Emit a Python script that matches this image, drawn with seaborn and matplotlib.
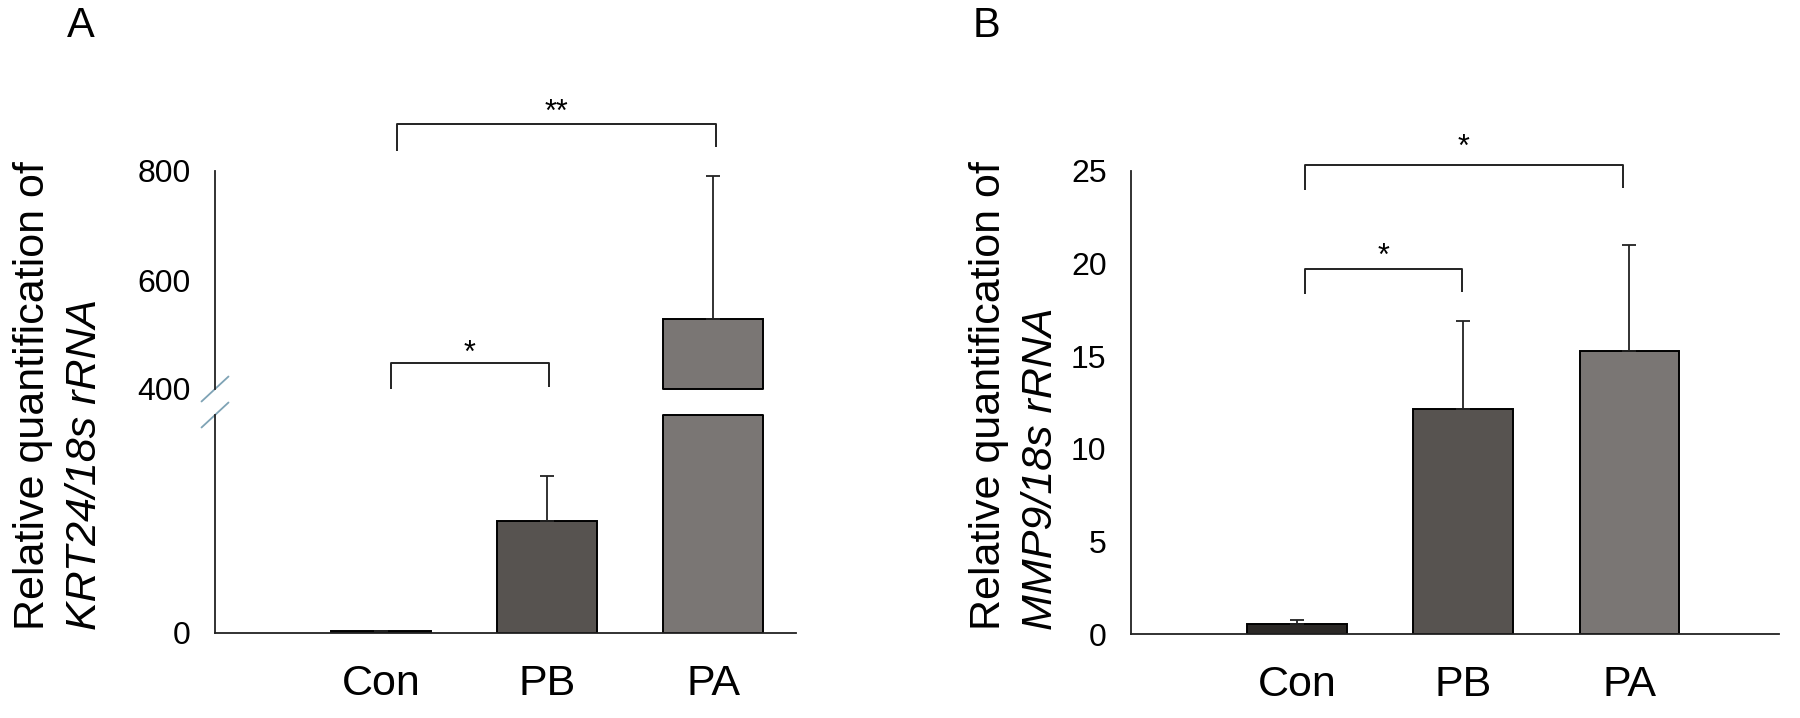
"""
Relative expression of KRT24 and MMP9 (qPCR, normalised to 18s rRNA).

Panel A uses a broken y-axis (two stacked axes), panel B a plain axis.
"""

import matplotlib

matplotlib.use("Agg")

import matplotlib.pyplot as plt
import numpy as np
import pandas as pd
import seaborn as sns


GROUPS = ["Con", "PB", "PA"]

# panel A: KRT24 / 18s rRNA (mean and upper SD)
KRT24_MEAN = [3, 206, 528]
KRT24_SD = [1, 82, 263]
KRT24_LOWER_LIM = (0, 400)
KRT24_UPPER_LIM = (400, 800)
KRT24_LOWER_TICKS = [0]
KRT24_UPPER_TICKS = [400, 600, 800]

# panel B: MMP9 / 18s rRNA
MMP9_MEAN = [0.55, 12.15, 15.3]
MMP9_SD = [0.22, 4.75, 5.7]
MMP9_LIM = (0, 25)
MMP9_TICKS = [0, 5, 10, 15, 20, 25]

# (group a, group b, label)
KRT24_SIG = [(0, 1, "*"), (0, 2, "**")]
MMP9_SIG = [(0, 1, "*"), (0, 2, "*")]

BAR_COLORS = ["#2b2826", "#575350", "#7a7674"]
LINE_COLOR = "#222222"
BREAK_COLOR = "#7fa3b5"

W, H = 1800, 718


def px_box(left, top, right, bottom):
    """Pixel box -> figure fraction [l, b, w, h]."""
    return [left / W, 1 - bottom / H, (right - left) / W, (bottom - top) / H]


def draw_bars(ax, means, sds):
    df = pd.DataFrame({"group": GROUPS, "value": means})
    sns.barplot(
        data=df, x="group", y="value", hue="group", order=GROUPS, hue_order=GROUPS,
        palette=BAR_COLORS, saturation=1, width=0.6, errorbar=None, legend=False,
        edgecolor="black", linewidth=1.4, ax=ax,
    )
    x = np.arange(len(GROUPS))
    ax.errorbar(
        x, means, yerr=[np.zeros(len(means)), sds], fmt="none",
        ecolor=LINE_COLOR, elinewidth=1.3, capsize=5, capthick=1.3, zorder=1,
    )
    ax.set_xlabel("")
    ax.set_ylabel("")


def style_axis(ax, show_x=True):
    sns.despine(ax=ax, top=True, right=True, bottom=not show_x)
    for side in ("left", "bottom"):
        ax.spines[side].set_linewidth(1.3)
        ax.spines[side].set_color(LINE_COLOR)
    ax.tick_params(axis="y", direction="out", length=3.6, width=1, pad=14,
                   labelsize=23, color=LINE_COLOR, labelcolor="black")
    if show_x:
        ax.tick_params(axis="x", direction="out", length=5, width=1, pad=17,
                       labelsize=31, color=LINE_COLOR, labelcolor="black")
    else:
        ax.tick_params(axis="x", bottom=False, labelbottom=False)


def bracket(ax, x0, x1, y, leg0, leg1, label, label_y):
    ax.plot([x0, x0, x1, x1], [leg0, y, y, leg1], color=LINE_COLOR, lw=1.4,
            clip_on=False, solid_capstyle="butt")
    ax.text((x0 + x1) / 2, label_y, label, ha="center", va="baseline",
            fontsize=22, color="black", clip_on=False)


def main():
    sns.set_style("white")
    plt.rcParams["font.family"] = ["Liberation Sans", "DejaVu Sans"]
    plt.rcParams["text.color"] = "black"

    fig = plt.figure(figsize=(W / 100, H / 100), dpi=100)

    # ---- panel A (broken axis) ----
    ax_hi = fig.add_axes(px_box(215, 171, 796, 389))
    ax_lo = fig.add_axes(px_box(215, 415, 796, 633))
    for ax in (ax_lo, ax_hi):
        draw_bars(ax, KRT24_MEAN, KRT24_SD)
        ax.set_xlim(-1.0, 2.5)
    ax_lo.set_ylim(*KRT24_LOWER_LIM)
    ax_hi.set_ylim(*KRT24_UPPER_LIM)
    ax_lo.set_yticks(KRT24_LOWER_TICKS)
    ax_hi.set_yticks(KRT24_UPPER_TICKS)
    style_axis(ax_lo, show_x=True)
    style_axis(ax_hi, show_x=False)

    # close the cut bars at the break
    cut = KRT24_LOWER_LIM[1]
    for i, m in enumerate(KRT24_MEAN):
        if m > cut:
            ax_lo.plot([i - 0.3, i + 0.3], [cut, cut], color="black", lw=1.4, clip_on=False)
            ax_hi.plot([i - 0.3, i + 0.3], [cut, cut], color="black", lw=1.4, clip_on=False)

    # break marks on the spine
    dx, dy = 13.5 / 581, 12.5 / 218
    for ax, yc in ((ax_hi, 0), (ax_lo, 1)):
        ax.plot([-dx, dx], [yc - dy, yc + dy], transform=ax.transAxes,
                color=BREAK_COLOR, lw=1.3, clip_on=False)

    bracket(ax_hi, 0.06, 1.01, 447, 400, 404, KRT24_SIG[0][2], 449)
    bracket(ax_hi, 0.095, 2.02, 886, 837, 844, KRT24_SIG[1][2], 891)

    fig.text(33 / W, 1 - 630 / H, "Relative quantification of", rotation=90,
             ha="center", va="bottom", fontsize=31)
    fig.text(85 / W, 1 - 630 / H, "KRT24/18s rRNA", rotation=90,
             ha="center", va="bottom", fontsize=31, style="italic")
    fig.text(81 / W, 1 - 6 / H, "A", ha="center", va="top", fontsize=30)

    # ---- panel B ----
    ax_b = fig.add_axes(px_box(1131, 171, 1779, 634))
    draw_bars(ax_b, MMP9_MEAN, MMP9_SD)
    ax_b.set_xlim(-1.0, 2.9)
    ax_b.set_ylim(*MMP9_LIM)
    ax_b.set_yticks(MMP9_TICKS)
    style_axis(ax_b, show_x=True)

    bracket(ax_b, 0.045, 0.99, 19.69, 18.34, 18.46, MMP9_SIG[0][2], 19.95)
    bracket(ax_b, 0.045, 1.96, 25.35, 24.0, 24.1, MMP9_SIG[1][2], 25.8)

    fig.text(989 / W, 1 - 630 / H, "Relative quantification of", rotation=90,
             ha="center", va="bottom", fontsize=31)
    fig.text(1041 / W, 1 - 630 / H, "MMP9/18s rRNA", rotation=90,
             ha="center", va="bottom", fontsize=31, style="italic")
    fig.text(986 / W, 1 - 6 / H, "B", ha="center", va="top", fontsize=30)

    fig.savefig("out.png", dpi=100)
    plt.close(fig)


if __name__ == "__main__":
    main()
